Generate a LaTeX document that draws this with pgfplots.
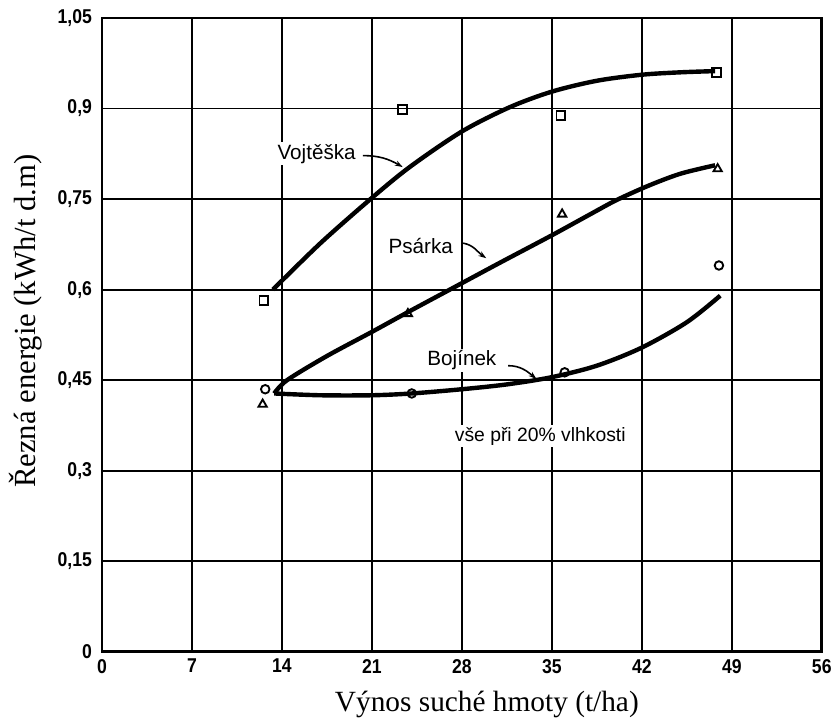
\documentclass[border=0pt]{standalone}
\usepackage{fontspec}
\setmainfont{Liberation Serif}
\newfontfamily\labfont{Liberation Sans}
\newfontfamily\tickfont[FakeStretch=0.88]{Liberation Sans}
\usepackage{pgfplots}
\pgfplotsset{compat=1.18}
\usetikzlibrary{arrows.meta}

% measured curves (smooth lines) and measured points
\pgfplotstableread{
x y
13.3 0.600
17.0 0.677
21.0 0.752
24.0 0.804
28.0 0.862
31.7 0.902
35.0 0.928
38.5 0.946
42.0 0.956
45.0 0.960
47.7 0.962
}\vojline
\pgfplotstableread{
x y
13.4 0.428
14.4 0.450
17.5 0.490
21.0 0.530
24.0 0.565
27.5 0.605
31.0 0.645
35.0 0.690
38.0 0.725
40.0 0.748
42.5 0.772
45.0 0.792
47.7 0.806
}\psaline
\pgfplotstableread{
x y
13.4 0.428
17.0 0.425
21.0 0.425
24.1 0.428
28.0 0.435
31.5 0.443
35.0 0.455
38.5 0.474
42.0 0.504
45.5 0.546
48.1 0.590
}\bojline
\pgfplotstableread{
x y
12.6 0.582
23.4 0.898
35.7 0.888
47.8 0.960
}\vojpts
\pgfplotstableread{
x y
12.5 0.410
23.8 0.560
35.8 0.725
47.9 0.800
}\psapts
\pgfplotstableread{
x y
12.7 0.435
24.1 0.428
36.0 0.463
48.0 0.640
}\bojpts

\begin{document}
\begin{tikzpicture}
\begin{axis}[
    at={(0,0)}, anchor=south west,
    scale only axis,
    width=540pt, height=475.5pt,
    xmin=0, xmax=56,
    ymin=0, ymax=1.05,
    xtick={0,7,14,21,28,35,42,49,56},
    xticklabels={0,7,14,21,28,35,42,49,56},
    ytick={0,0.15,0.3,0.45,0.6,0.75,0.9,1.05},
    yticklabels={{0},{0,15},{0,3},{0,45},{0,6},{0,75},{0,9},{1,05}},
    major tick length=0pt,
    grid=major,
    grid style={black, line width=1.4pt},
    axis line style={black, line width=2.2pt},
    ticklabel style={font=\tickfont\bfseries\fontsize{15}{17}\selectfont},
    xticklabel style={yshift=-2pt},
    yticklabel style={xshift=-4pt},
    clip=false,
]
\addplot[black, line width=3.3pt, smooth] table {\vojline};
\addplot[black, line width=3.3pt, smooth] table {\psaline};
\addplot[black, line width=3.3pt, smooth] table {\bojline};
\addplot[only marks, mark=square, mark size=3.3pt, mark options={line width=1.4pt, fill=white}] table {\vojpts};
\addplot[only marks, mark=triangle, mark size=3.6pt, mark options={line width=1.4pt, fill=white}] table {\psapts};
\addplot[only marks, mark=o, mark size=3.2pt, mark options={line width=1.4pt, fill=white}] table {\bojpts};

\tikzset{lab/.style={fill=white, inner sep=1.5pt, font=\labfont\fontsize{15.5}{17}\selectfont}}
\node[lab] at (axis cs:16.7,0.825) {Vojtěška};
\draw[line width=1.2pt, -{Stealth[length=6pt,width=4pt]}] (axis cs:20.3,0.822) to[out=0,in=150] (axis cs:23.4,0.803);
\node[lab] at (axis cs:24.8,0.673) {Psárka};
\draw[line width=1.2pt, -{Stealth[length=6pt,width=4pt]}] (axis cs:28.1,0.677) to[out=-10,in=145] (axis cs:29.9,0.652);
\node[lab] at (axis cs:28.0,0.483) {Bojínek};
\draw[line width=1.2pt, -{Stealth[length=6pt,width=4pt]}] (axis cs:31.6,0.474) to[out=0,in=140] (axis cs:33.8,0.452);
\node[lab, font=\labfont\fontsize{14.5}{16}\selectfont] at (axis cs:34.1,0.357) {vše při 20\% vlhkosti};
\end{axis}
\node[rotate=90, anchor=base, font=\fontsize{23}{25}\selectfont] at (-49.5pt,248pt) {Řezná energie (kWh/t d.m)};
\node[anchor=base, font=\fontsize{22}{24}\selectfont] at (288.75pt,-45pt) {Výnos suché hmoty (t/ha)};
\path (-76.5pt,-57pt) rectangle (550.5pt,489pt);
\end{tikzpicture}
\end{document}
